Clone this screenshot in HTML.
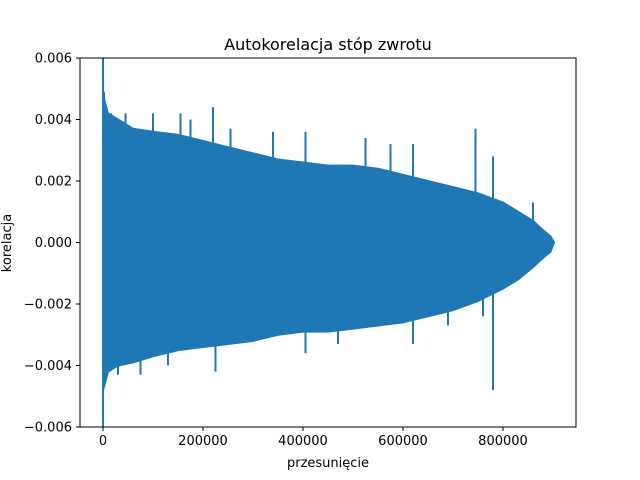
<!DOCTYPE html>
<html><head><meta charset="utf-8"><style>
body{margin:0;background:#fff;}
svg{display:block;font-family:"DejaVu Sans","Liberation Sans",sans-serif;}
</style></head><body>
<svg id="chart" width="640" height="480">
<rect x="0" y="0" width="640" height="480" fill="#fff"/>
<text x="328" y="50" font-size="16" text-anchor="middle">Autokorelacja stóp zwrotu</text>
<g id="plot"></g>
<rect x="80" y="58" width="496" height="369" fill="none" stroke="#000" stroke-width="1"/>
<g id="axes"></g>
<text x="328" y="467" font-size="13" text-anchor="middle">przesunięcie</text>
<text transform="translate(11,243) rotate(-90)" font-size="13" text-anchor="middle">korelacja</text>
</svg>
<script>
const lags = [0, 10000, 30000, 60000, 100000, 150000, 200000, 250000, 300000, 350000, 400000, 450000, 500000, 550000, 600000, 650000, 700000, 750000, 800000, 830000, 860000, 880000, 895000, 902000];
const upper = [0.0048, 0.0042, 0.0040, 0.0037, 0.0036, 0.0035, 0.0033, 0.0031, 0.0029, 0.0027, 0.0026, 0.0025, 0.0025, 0.0024, 0.0022, 0.0020, 0.0018, 0.0016, 0.0013, 0.0010, 0.0007, 0.0004, 0.0002, 0.0];
const lower = [-0.0048, -0.0042, -0.0040, -0.0039, -0.0037, -0.0035, -0.0034, -0.0033, -0.0032, -0.0030, -0.0029, -0.0029, -0.0028, -0.0027, -0.0026, -0.0024, -0.0022, -0.0019, -0.0015, -0.0012, -0.0008, -0.0005, -0.0003, 0.0];
const spikeLags = [0, 0, 2000, 16000, 30000, 45000, 75000, 100000, 130000, 155000, 175000, 220000, 225000, 255000, 340000, 405000, 405000, 470000, 525000, 575000, 620000, 620000, 690000, 745000, 760000, 780000, 780000, 860000];
const spikeVals = [0.006, -0.006, 0.0049, 0.0042, -0.0043, 0.0042, -0.0043, 0.0042, -0.0040, 0.0042, 0.0040, 0.0044, -0.0042, 0.0037, 0.0036, 0.0036, -0.0036, -0.0033, 0.0034, 0.0032, 0.0032, -0.0033, -0.0027, 0.0037, -0.0024, 0.0028, -0.0048, 0.0013];
const xTicks = [0, 200000, 400000, 600000, 800000];
const yTicks = [-0.006, -0.004, -0.002, 0.000, 0.002, 0.004, 0.006];
const yTickLabels = ["−0.006", "−0.004", "−0.002", "0.000", "0.002", "0.004", "0.006"];

const X0 = 80, X1 = 576, Y0 = 427, Y1 = 58;
const xMin = -46000, xMax = 946000, yMin = -0.006, yMax = 0.006;
const sx = v => X0 + (v - xMin) / (xMax - xMin) * (X1 - X0);
const sy = v => Y0 - (v - yMin) / (yMax - yMin) * (Y0 - Y1);
const NS = "http://www.w3.org/2000/svg";
const plot = document.getElementById('plot');
const axes = document.getElementById('axes');
const color = "#1f77b4";

let pts = lags.map((l, i) => sx(l) + "," + sy(upper[i]));
for (let i = lags.length - 1; i >= 0; i--) pts.push(sx(lags[i]) + "," + sy(lower[i]));
const poly = document.createElementNS(NS, 'polygon');
poly.setAttribute('points', pts.join(' '));
poly.setAttribute('fill', color);
poly.setAttribute('stroke', color);
poly.setAttribute('stroke-width', '2');


plot.appendChild(poly);

spikeLags.forEach((l, i) => {
  const ln = document.createElementNS(NS, 'line');
  ln.setAttribute('x1', sx(l)); ln.setAttribute('x2', sx(l));
  ln.setAttribute('y1', sy(0)); ln.setAttribute('y2', sy(spikeVals[i]));
  ln.setAttribute('stroke', color); ln.setAttribute('stroke-width', '2');
  
  
  plot.appendChild(ln);
});

xTicks.forEach(t => {
  const x = sx(t);
  const tk = document.createElementNS(NS, 'line');
  tk.setAttribute('x1', x); tk.setAttribute('x2', x);
  tk.setAttribute('y1', Y0); tk.setAttribute('y2', Y0 + 4);
  tk.setAttribute('stroke', '#000');
  
  
  axes.appendChild(tk);
  const tx = document.createElementNS(NS, 'text');
  tx.setAttribute('x', x); tx.setAttribute('y', Y0 + 18);
  tx.setAttribute('font-size', '13'); tx.setAttribute('text-anchor', 'middle');
  tx.textContent = String(t);
  
  
  axes.appendChild(tx);
});
yTicks.forEach((t, i) => {
  const y = sy(t);
  const tk = document.createElementNS(NS, 'line');
  tk.setAttribute('x1', X0 - 4); tk.setAttribute('x2', X0);
  tk.setAttribute('y1', y); tk.setAttribute('y2', y);
  tk.setAttribute('stroke', '#000');
  
  
  axes.appendChild(tk);
  const tx = document.createElementNS(NS, 'text');
  tx.setAttribute('x', X0 - 8); tx.setAttribute('y', y + 4.5);
  tx.setAttribute('font-size', '13'); tx.setAttribute('text-anchor', 'end');
  tx.textContent = yTickLabels[i];
  
  
  axes.appendChild(tx);
});
</script>
</body></html>
